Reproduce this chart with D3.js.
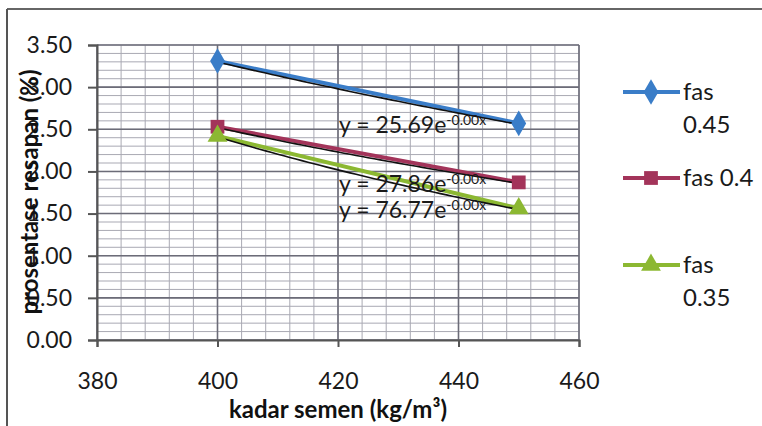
<!DOCTYPE html>
<html>
<head>
<meta charset="utf-8">
<script src="https://cdn.jsdelivr.net/npm/d3@7"></script>
<style>
  html, body { margin: 0; padding: 0; background: #fff; }
  svg { display: block; font-family: Lato, "Open Sans", sans-serif; }
</style>
</head>
<body>
<svg id="chart" width="762" height="426"></svg>
<script>
// Cement content (kg/m3) on x, absorption percentage on y
const cementContent = [400, 450];
const seriesNames = ["fas 0.45", "fas 0.4", "fas 0.35"];
const legendLines = [["fas", "0.45"], ["fas 0.4"], ["fas", "0.35"]];
const absorption045 = [3.31, 2.57];
const absorption040 = [2.53, 1.87];
const absorption035 = [2.42, 1.56];
const trendCoef = ["25.69", "27.86", "76.77"];
const trendExp = "-0.00x";
const xTicks = [380, 400, 420, 440, 460];
const yTicks = [0, 0.5, 1, 1.5, 2, 2.5, 3, 3.5];
const xTitle = "kadar semen (kg/m³)";
const yTitle = "prosentase resapan (%)";

const seriesValues = [absorption045, absorption040, absorption035];
const colors = ["#3a7dc8", "#a3345a", "#8cb832"];
const symbols = [d3.symbolDiamond, d3.symbolSquare, d3.symbolTriangle];
const symbolSizes = [190, 190, 170];

const svg = d3.select("#chart");
const x = d3.scaleLinear().domain([380, 460]).range([97, 579]);
const y = d3.scaleLinear().domain([0, 3.5]).range([340, 45]);

// Outer frame: only top and left edges are visible
svg.append("line").attr("x1", 7).attr("x2", 762).attr("y1", 9).attr("y2", 9)
  .attr("stroke", "#666").attr("stroke-width", 2);
svg.append("line").attr("x1", 7).attr("x2", 7).attr("y1", 9).attr("y2", 426)
  .attr("stroke", "#555").attr("stroke-width", 2);

// Minor gridlines
const grid = svg.append("g");
const minorX = d3.range(380, 460.01, 4);
const minorY = d3.range(0, 3.501, 0.1);
grid.selectAll(".mx").data(minorX).join("line")
  .attr("x1", d => x(d)).attr("x2", d => x(d)).attr("y1", y(0)).attr("y2", y(3.5))
  .attr("stroke", "#a9a9b3").attr("stroke-width", 1);
grid.selectAll(".my").data(minorY).join("line")
  .attr("y1", d => y(d)).attr("y2", d => y(d)).attr("x1", x(380)).attr("x2", x(460))
  .attr("stroke", "#a9a9b3").attr("stroke-width", 1);
// Major gridlines
grid.selectAll(".Mx").data(xTicks).join("line")
  .attr("x1", d => x(d)).attr("x2", d => x(d)).attr("y1", y(0)).attr("y2", y(3.5))
  .attr("stroke", "#6c6c78").attr("stroke-width", 1.6);
grid.selectAll(".My").data(yTicks).join("line")
  .attr("y1", d => y(d)).attr("y2", d => y(d)).attr("x1", x(380)).attr("x2", x(460))
  .attr("stroke", "#6c6c78").attr("stroke-width", 1.6);

// Axes
const xAxis = svg.append("g").attr("transform", `translate(0,${y(0)})`)
  .call(d3.axisBottom(x).tickValues(xTicks).tickSize(7).tickPadding(26).tickFormat(d3.format("d")));
const yAxis = svg.append("g").attr("transform", `translate(${x(380)},0)`)
  .call(d3.axisLeft(y).tickValues(yTicks).tickSize(9).tickPadding(16).tickFormat(d3.format(".2f")));
[xAxis, yAxis].forEach(a => {
  a.select(".domain").attr("stroke", "#555").attr("stroke-width", 2);
  a.selectAll(".tick line").attr("stroke", "#555").attr("stroke-width", 2);
  a.selectAll(".tick text").attr("fill", "#1a1a1a").style("font-size", "23px")
    .style("font-family", "Lato, sans-serif");
});

// Series lines, exponential trendlines and markers
const line = d3.line().x((d, i) => x(cementContent[i])).y(d => y(d));
seriesValues.forEach((vals, s) => {
  const g = svg.append("g");
  g.append("path").datum(vals).attr("d", line)
    .attr("fill", "none").attr("stroke", colors[s]).attr("stroke-width", 4);
  // exponential fit through the two points
  const k = Math.log(vals[1] / vals[0]) / (cementContent[1] - cementContent[0]);
  const a = vals[0] / Math.exp(k * cementContent[0]);
  const xs = d3.range(cementContent[0], cementContent[1] + 0.01, 1);
  g.append("path").datum(xs)
    .attr("d", d3.line().x(d => x(d)).y(d => y(a * Math.exp(k * d)) + 1))
    .attr("fill", "none").attr("stroke", "#111").attr("stroke-width", 1.6);
  g.selectAll("path.m").data(vals).join("path")
    .attr("transform", (d, i) => `translate(${x(cementContent[i])},${y(d)})`)
    .attr("d", d3.symbol().type(symbols[s]).size(symbolSizes[s]))
    .attr("fill", colors[s]);
});

// Trendline equations
seriesValues.forEach((vals, s) => {
  const t = svg.append("text").attr("x", x(420) + 1).attr("y", y(vals[1]) + 9.5)
    .attr("fill", "#1a1a1a").style("font-size", "23px");
  t.append("tspan").text(`y = ${trendCoef[s]}e`);
  t.append("tspan").attr("dy", -8).style("font-size", "14px").text(trendExp);
});

// Axis titles
svg.append("text").attr("x", 338).attr("y", 418).attr("text-anchor", "middle")
  .attr("fill", "#111").style("font-size", "24px").style("font-weight", "bold").text(xTitle);
svg.append("text").attr("transform", "translate(38,192) rotate(-90)").attr("text-anchor", "middle")
  .attr("fill", "#111").style("font-size", "24px").style("font-weight", "bold").text(yTitle);

// Legend
const legendY = [92, 178, 265];
seriesNames.forEach((name, s) => {
  const g = svg.append("g").attr("transform", `translate(623,${legendY[s]})`);
  g.append("line").attr("x1", 0).attr("x2", 57).attr("stroke", colors[s]).attr("stroke-width", 4);
  g.append("path").attr("transform", "translate(28,0)")
    .attr("d", d3.symbol().type(symbols[s]).size(symbolSizes[s])).attr("fill", colors[s]);
  const t = g.append("text").attr("x", 60).attr("y", 8).attr("fill", "#1a1a1a").style("font-size", "24px");
  legendLines[s].forEach((ln, i) => t.append("tspan").attr("x", 60).attr("dy", i ? 33 : 0).text(ln));
});
</script>
</body>
</html>
